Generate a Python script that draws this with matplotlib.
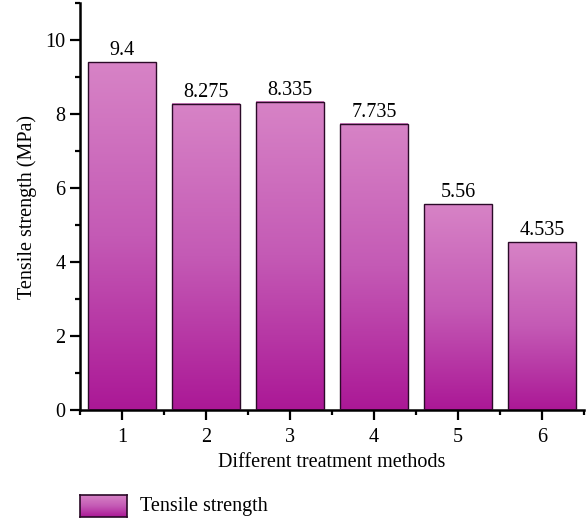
import numpy as np
import matplotlib
matplotlib.use("Agg")
import matplotlib.pyplot as plt
from matplotlib.colors import LinearSegmentedColormap
from matplotlib.ticker import MultipleLocator

plt.rcParams['font.family'] = ['Liberation Serif', 'DejaVu Serif']

# data
methods = [1, 2, 3, 4, 5, 6]
strength = [9.4, 8.275, 8.335, 7.735, 5.56, 4.535]
labels = ["9.4", "8.275", "8.335", "7.735", "5.56", "4.535"]

# gradient: bottom dark magenta -> top light pink
cmap = LinearSegmentedColormap.from_list("pinkgrad", ["#ab1896", "#c45ab5", "#d783c6"])
grad = np.linspace(0, 1, 256).reshape(-1, 1)

fs = 14.5

fig = plt.figure(figsize=(5.86, 5.25), dpi=100)
ax = fig.add_axes([0.1365, 0.219, 0.86, 0.775])

bars = ax.bar(methods, strength, width=0.8, facecolor="none",
              edgecolor="#2b0a28", linewidth=1.0, zorder=3)
for b in bars:
    x0, y0 = b.get_x(), b.get_y()
    w, h = b.get_width(), b.get_height()
    ax.imshow(grad, cmap=cmap, origin="lower", aspect="auto",
              extent=[x0, x0 + w, y0, y0 + h], zorder=2)

for x, v, t in zip(methods, strength, labels):
    ax.text(x, v + 0.06, t, ha="center", va="bottom", fontsize=fs)

ax.set_xlim(0.5, 6.5)
ax.set_ylim(0, 11)
ax.set_xticks(methods)
ax.yaxis.set_major_locator(MultipleLocator(2))
ax.yaxis.set_minor_locator(MultipleLocator(1))
ax.xaxis.set_minor_locator(MultipleLocator(0.5))
ax.tick_params(which="major", direction="out", length=7, width=1.6, labelsize=fs)
ax.tick_params(axis="x", which="major", pad=6)
ax.tick_params(which="minor", direction="out", length=3.5, width=1.6)
for s in ["top", "right"]:
    ax.spines[s].set_visible(False)
for s in ["left", "bottom"]:
    ax.spines[s].set_linewidth(1.8)

ax.set_xlabel("Different treatment methods", fontsize=fs, labelpad=4)
ax.set_ylabel("Tensile strength (MPa)", fontsize=fs, labelpad=6)

# legend drawn by hand so the swatch can carry the gradient
lax = fig.add_axes([80 / 586, 1 - 517 / 525, 47 / 586, 22 / 525])
lax.imshow(grad, cmap=cmap, origin="lower", aspect="auto")
lax.set_xticks([])
lax.set_yticks([])
for s in lax.spines.values():
    s.set_color("#2b0a28")
    s.set_linewidth(1.2)
fig.text(140 / 586, 1 - 506 / 525, "Tensile strength", ha="left", va="center", fontsize=fs)

fig.savefig("out.png", dpi=100)
